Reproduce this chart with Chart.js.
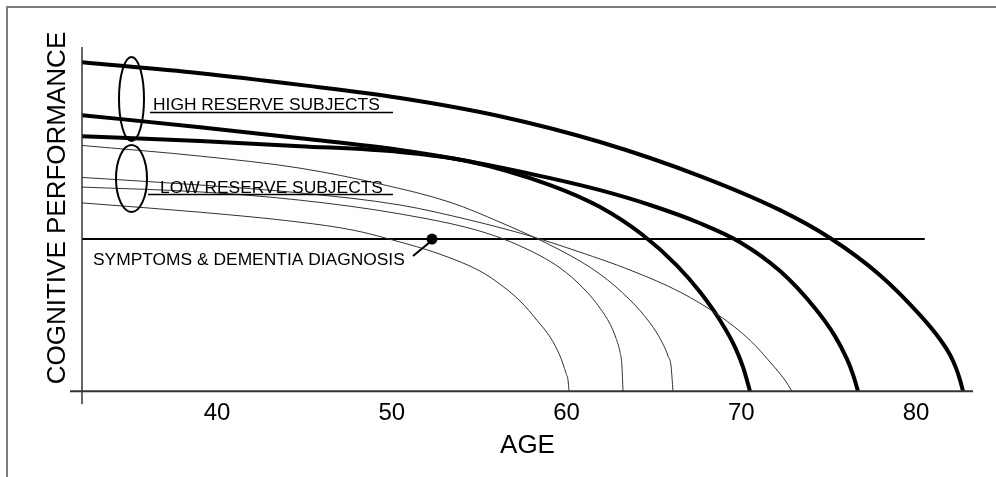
<!DOCTYPE html>
<html>
<head>
<meta charset="utf-8">
<script src="https://cdn.jsdelivr.net/npm/chart.js@4.4.1/dist/chart.umd.min.js"></script>
<style>
html, body { margin: 0; padding: 0; background: #fff; }
#wrap { width: 996px; height: 477px; }
</style>
</head>
<body>
<div id="wrap"><canvas id="grafico" width="996" height="477"></canvas></div>
<script>
// age axis ticks
const ageTicks = [40, 50, 60, 70, 80];

// high reserve subjects (thick curves)
const high1Age  = [32.27, 39.03, 44.75, 50.47, 56.19, 61.92, 67.64, 72.22, 75.08, 77.94, 80.23, 81.37, 81.95, 82.29, 82.52, 82.69];
const high1Perf = [95.6, 92.4, 89.0, 85.2, 79.9, 72.4, 62.5, 52.6, 44.5, 33.7, 22.1, 15.1, 10.5, 6.7, 3.2, 0];

const high2Age  = [32.27, 39.03, 44.75, 50.47, 54.31, 59.06, 61.92, 64.78, 67.64, 69.93, 72.22, 74.22, 75.36, 76.05, 76.39, 76.68];
const high2Perf = [80.2, 76.7, 73.5, 70.1, 66.9, 61.9, 58.4, 54.1, 48.8, 43.3, 34.9, 24.1, 16.0, 9.3, 4.9, 0];

const high3Age  = [32.27, 39.03, 44.75, 50.47, 54.31, 59.06, 61.92, 64.38, 66.32, 67.64, 68.78, 69.64, 70.10, 70.50];
const high3Perf = [74.1, 72.7, 71.2, 69.5, 66.9, 59.9, 53.5, 45.3, 36.5, 28.8, 20.6, 12.8, 7.0, 0];

// low reserve subjects (thin curves)
const low1Age  = [32.27, 39.03, 44.75, 49.33, 53.33, 56.19, 59.63, 61.92, 63.63, 64.78, 65.47, 65.81, 65.98, 66.09];
const low1Perf = [71.4, 68.3, 64.8, 60.2, 54.9, 49.1, 41.0, 34.0, 26.5, 19.8, 14.2, 10.2, 7.3, 0];

const low2Age  = [32.27, 39.03, 44.75, 50.47, 54.48, 57.91, 60.77, 63.63, 66.50, 68.78, 70.50, 71.76, 72.50, 72.90];
const low2Perf = [62.1, 59.9, 57.6, 54.1, 49.7, 45.1, 40.4, 35.2, 28.8, 21.8, 14.8, 7.8, 3.2, 0];

const low3Age  = [32.27, 39.03, 44.75, 50.47, 55.05, 57.34, 59.63, 61.06, 61.92, 62.49, 62.83, 63.06, 63.17, 63.23];
const low3Perf = [59.3, 57.9, 55.5, 51.5, 46.5, 42.2, 35.8, 29.4, 24.1, 19.5, 15.4, 11.3, 7.3, 0];

const low4Age  = [32.27, 39.03, 44.75, 47.78, 50.07, 52.76, 55.05, 56.19, 57.34, 58.31, 59.06, 59.63, 59.97, 60.09, 60.14];
const low4Perf = [54.7, 52.0, 49.1, 46.8, 43.9, 39.8, 34.9, 31.1, 26.2, 20.6, 15.7, 10.2, 5.2, 3.0, 0];

// symptoms & dementia diagnosis threshold
const diagnosisAge  = [32.27, 80.5];
const diagnosisPerf = [44.2, 44.2];
const markerAge  = [52.3];
const markerPerf = [44.2];

const FONT = "'Liberation Sans', Arial, Helvetica, sans-serif";
Chart.defaults.font.family = FONT;
Chart.defaults.color = '#000';

function pts(ages, vals) {
    return ages.map((a, i) => ({ x: a, y: vals[i] }));
}

function curve(ages, vals, thick) {
    return {
        data: pts(ages, vals),
        borderColor: thick ? '#000' : '#333',
        borderWidth: thick ? 4 : 1,
        pointRadius: 0,
        cubicInterpolationMode: 'monotone',
        fill: false
    };
}

// frame, axis lines, y title and the hand-drawn notes
const extras = {
    id: 'extras',
    afterDraw(chart) {
        const ctx = chart.ctx;
        const a = chart.chartArea;
        ctx.save();

        // outer frame (top and left only)
        ctx.strokeStyle = '#7d7d7d';
        ctx.lineWidth = 2;
        ctx.beginPath();
        ctx.moveTo(7, 477); ctx.lineTo(7, 7); ctx.lineTo(996, 7);
        ctx.stroke();

        // axes
        ctx.strokeStyle = '#333';
        ctx.lineWidth = 2;
        ctx.beginPath();
        ctx.moveTo(a.left - 12, a.bottom); ctx.lineTo(a.right, a.bottom);
        ctx.stroke();
        ctx.lineWidth = 1.5;
        ctx.beginPath();
        ctx.moveTo(a.left, a.top); ctx.lineTo(a.left, a.bottom + 13);
        ctx.stroke();

        // y title
        ctx.fillStyle = '#000';
        ctx.font = '26px ' + FONT;
        ctx.textAlign = 'center';
        ctx.textBaseline = 'alphabetic';
        ctx.save();
        ctx.translate(65, 208);
        ctx.rotate(-Math.PI / 2);
        ctx.fillText('COGNITIVE PERFORMANCE', 0, 0);
        ctx.restore();

        // ellipses
        ctx.strokeStyle = '#000';
        ctx.lineWidth = 2;
        ctx.beginPath();
        ctx.ellipse(131.5, 99, 12.5, 42, 0, 0, Math.PI * 2);
        ctx.stroke();
        ctx.beginPath();
        ctx.ellipse(131.5, 178.5, 15.5, 33.5, 0, 0, Math.PI * 2);
        ctx.stroke();

        // labels
        ctx.font = '17.4px ' + FONT;
        ctx.textAlign = 'left';
        ctx.fillText('HIGH RESERVE SUBJECTS', 153, 110);
        ctx.fillText('LOW RESERVE SUBJECTS', 160, 193);
        ctx.fillText('SYMPTOMS & DEMENTIA DIAGNOSIS', 93, 265);

        ctx.lineWidth = 1.5;
        ctx.beginPath();
        ctx.moveTo(150, 112.5); ctx.lineTo(393, 112.5);
        ctx.moveTo(148, 194.5); ctx.lineTo(393, 194.5);
        ctx.stroke();

        // leader to the diagnosis marker
        const mx = chart.scales.x.getPixelForValue(markerAge[0]);
        const my = chart.scales.y.getPixelForValue(markerPerf[0]);
        ctx.lineWidth = 2;
        ctx.beginPath();
        ctx.moveTo(mx - 19, my + 17); ctx.lineTo(mx - 2, my + 3);
        ctx.stroke();

        ctx.restore();
    }
};

const grafico = document.getElementById('grafico');
new Chart(grafico, {
    type: 'line',
    data: {
        datasets: [
            curve(low1Age, low1Perf, false),
            curve(low2Age, low2Perf, false),
            curve(low3Age, low3Perf, false),
            curve(low4Age, low4Perf, false),
            curve(high1Age, high1Perf, true),
            curve(high2Age, high2Perf, true),
            curve(high3Age, high3Perf, true),
            {
                data: pts(diagnosisAge, diagnosisPerf),
                borderColor: '#000',
                borderWidth: 2,
                pointRadius: 0
            },
            {
                data: pts(markerAge, markerPerf),
                showLine: false,
                pointRadius: 5.5,
                pointBackgroundColor: '#000',
                pointBorderWidth: 0
            }
        ]
    },
    options: {
        responsive: false,
        animation: false,
        layout: { padding: { left: 82, right: 23, top: 47, bottom: 21 } },
        plugins: { legend: { display: false }, tooltip: { enabled: false } },
        scales: {
            x: {
                type: 'linear',
                min: 32.27,
                max: 83.26,
                afterBuildTicks: s => { s.ticks = ageTicks.map(v => ({ value: v })); },
                grid: { display: false, drawTicks: false },
                border: { display: false },
                ticks: { color: '#000', padding: 10, font: { size: 24, lineHeight: 1 } },
                title: { display: true, text: 'AGE', color: '#000', font: { size: 26, lineHeight: 0.8 }, padding: 0 }
            },
            y: {
                type: 'linear',
                min: 0,
                max: 100,
                display: false
            }
        }
    },
    plugins: [extras]
});
</script>
</body>
</html>
